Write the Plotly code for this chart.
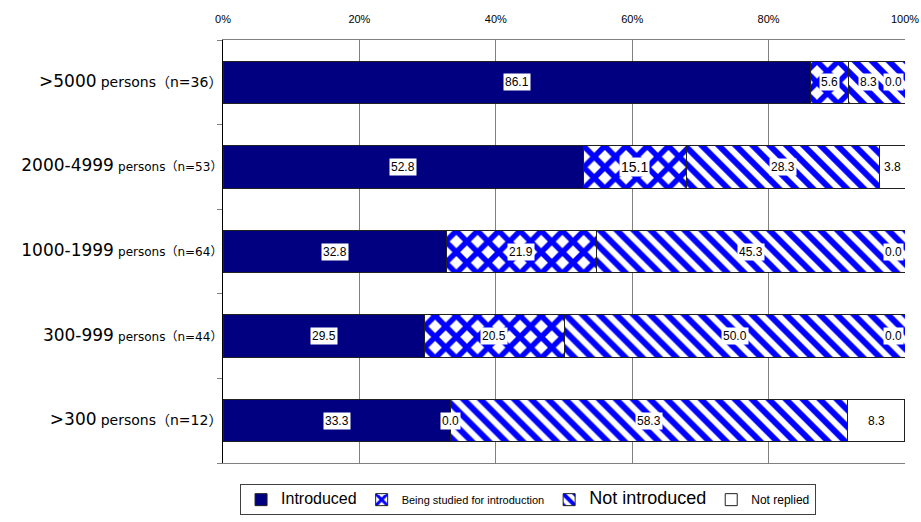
import plotly.graph_objects as go

categories = [">5000 persons（n=36）", "2000-4999 persons（n=53）", "1000-1999 persons（n=64）",
              "300-999 persons（n=44）", ">300 persons（n=12）"]
cat_main = [">5000", "2000-4999", "1000-1999", "300-999", ">300"]
cat_sub = ["persons（n=36）", "persons（n=53）", "persons（n=64）", "persons（n=44）", "persons（n=12）"]

introduced = [86.1, 52.8, 32.8, 29.5, 33.3]
being_studied = [5.6, 15.1, 21.9, 20.5, 0.0]
not_introduced = [8.3, 28.3, 45.3, 50.0, 58.3]
not_replied = [0.0, 3.8, 0.0, 0.0, 8.3]

series_names = ["Introduced", "Being studied for introduction", "Not introduced", "Not replied"]
series_vals = [introduced, being_studied, not_introduced, not_replied]
legend_sizes = [16, 11, 18, 12]

x_ticks = [0, 20, 40, 60, 80, 100]

main_sizes = [17, 17, 17, 17, 17]
sub_sizes = [14, 12, 12, 12, 14]
ticktext = [f'<span style="font-size:{ms}px">{m}</span> <span style="font-size:{ss}px">{s}</span>'
            for m, s, ms, ss in zip(cat_main, cat_sub, main_sizes, sub_sizes)]

markers = [
    dict(color="#000080", line=dict(color="#202020", width=1)),
    dict(color="white", line=dict(color="#202020", width=1),
         pattern=dict(shape="x", fgcolor="#0000FF", bgcolor="white", size=15, solidity=0.6, fgopacity=1)),
    dict(color="white", line=dict(color="#202020", width=1),
         pattern=dict(shape="\\", fgcolor="#0000FF", bgcolor="white", size=12, solidity=0.5, fgopacity=1)),
    dict(color="white", line=dict(color="#202020", width=1)),
]

fig = go.Figure()
for name, vals, mk, ls in zip(series_names, series_vals, markers, legend_sizes):
    fig.add_trace(go.Bar(
        y=categories, x=vals, orientation="h", marker=mk, width=0.5,
        name=f'<span style="font-size:{ls}px">{name}</span>', hoverinfo="x+y",
    ))

# value labels with white background
for i, cat in enumerate(categories):
    cum = 0.0
    for k, vals in enumerate(series_vals):
        v = vals[i]
        xc = cum + v / 2
        xanchor = "center"
        xshift = 0
        if v == 0 and cum >= 99.9:
            xanchor = "right"
            xshift = -1
        elif k + 1 < len(series_vals) and series_vals[k + 1][i] == 0 and cum + v >= 99.9 and v < 10:
            xshift = -8
        size = 14 if v == 15.1 else 12
        fig.add_annotation(x=xc, y=cat, text=f"{v:.1f}", showarrow=False, xanchor=xanchor, xshift=xshift,
                           font=dict(family="Liberation Sans, Arial", size=size, color="black"),
                           bgcolor="white", borderpad=1)
        cum += v

fig.update_layout(
    barmode="stack",
    width=921, height=522,
    margin=dict(l=223, r=16, t=40, b=59, autoexpand=False),
    paper_bgcolor="white", plot_bgcolor="white",
    showlegend=True,
    legend=dict(orientation="h", x=0.025, y=-0.05, xanchor="left", yanchor="top",
                traceorder="normal",
                bordercolor="#404040", borderwidth=1, bgcolor="white",
                font=dict(family="Liberation Sans, Arial", size=12, color="black"),
                itemwidth=30, tracegroupgap=0),
    xaxis=dict(side="top", range=[0, 100], tickvals=x_ticks,
               ticktext=[f"{t}%" for t in x_ticks], automargin=False,
               ticklabeloverflow="allow",
               showgrid=True, gridcolor="#808080", gridwidth=1,
               showline=True, linecolor="#808080", linewidth=1, mirror=True,
               ticks="", ticklabelstandoff=12, zeroline=False,
               tickfont=dict(family="Liberation Sans Narrow, Liberation Sans, Arial", size=11, color="black")),
    yaxis=dict(categoryorder="array", categoryarray=categories, autorange="reversed",
               tickmode="array", tickvals=categories, ticktext=ticktext, automargin=False,
               showline=True, linecolor="black", linewidth=1,
               ticks="outside", tickson="boundaries", ticklen=5, tickcolor="#808080",
               showgrid=False, ticklabelstandoff=-3,
               tickfont=dict(family="DejaVu Sans, Noto Sans CJK JP", size=13, color="black")),
)

fig.write_html("out.html", config={"displayModeBar": False},
               post_script="document.body.style.margin='0px';document.body.style.overflow='hidden';")
